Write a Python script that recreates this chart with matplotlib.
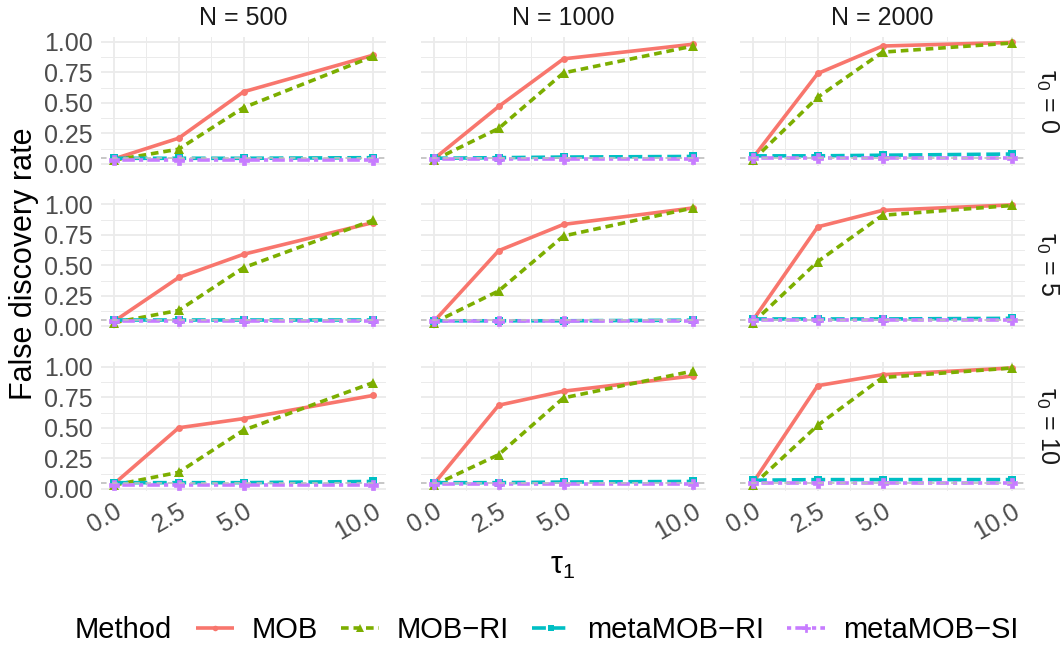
import matplotlib
matplotlib.use("Agg")
import matplotlib.pyplot as plt
from matplotlib.lines import Line2D

plt.rcParams['font.family'] = ['Liberation Sans', 'DejaVu Sans']
plt.rcParams['mathtext.fontset'] = 'custom'
plt.rcParams['mathtext.rm'] = 'Liberation Sans'
plt.rcParams['mathtext.it'] = 'Liberation Sans:italic'
plt.rcParams['lines.scale_dashes'] = False

# data
tau1 = [0, 2.5, 5, 10]
n_values = [500, 1000, 2000]
tau0_values = [0, 5, 10]
methods = ["MOB", "MOB\u2212RI", "metaMOB\u2212RI", "metaMOB\u2212SI"]

# rows = tau0 (0, 5, 10), columns = N (500, 1000, 2000)
fdr_mob = [
    [[0.04, 0.21, 0.59, 0.89], [0.04, 0.47, 0.86, 0.98], [0.05, 0.74, 0.965, 0.995]],
    [[0.04, 0.40, 0.59, 0.85], [0.04, 0.62, 0.835, 0.97], [0.05, 0.815, 0.95, 0.995]],
    [[0.04, 0.50, 0.575, 0.765], [0.04, 0.685, 0.80, 0.925], [0.05, 0.845, 0.935, 0.99]],
]
fdr_mob_ri = [
    [[0.03, 0.12, 0.46, 0.88], [0.03, 0.29, 0.745, 0.965], [0.03, 0.545, 0.915, 0.99]],
    [[0.03, 0.13, 0.48, 0.87], [0.03, 0.29, 0.74, 0.97], [0.03, 0.53, 0.91, 0.99]],
    [[0.03, 0.135, 0.48, 0.87], [0.03, 0.28, 0.745, 0.965], [0.03, 0.52, 0.912, 0.99]],
]
fdr_meta_ri = [
    [[0.045, 0.045, 0.045, 0.05], [0.045, 0.05, 0.055, 0.06], [0.065, 0.065, 0.07, 0.08]],
    [[0.05, 0.05, 0.05, 0.05], [0.045, 0.045, 0.045, 0.05], [0.06, 0.06, 0.06, 0.065]],
    [[0.05, 0.05, 0.05, 0.06], [0.05, 0.05, 0.055, 0.06], [0.07, 0.075, 0.075, 0.075]],
]
fdr_meta_si = [
    [[0.035, 0.035, 0.035, 0.035], [0.04, 0.04, 0.04, 0.04], [0.05, 0.05, 0.05, 0.05]],
    [[0.04, 0.04, 0.04, 0.04], [0.04, 0.04, 0.04, 0.04], [0.05, 0.05, 0.05, 0.05]],
    [[0.035, 0.035, 0.035, 0.035], [0.04, 0.04, 0.04, 0.04], [0.05, 0.05, 0.05, 0.05]],
]
nominal = 0.05

series = [fdr_mob, fdr_mob_ri, fdr_meta_ri, fdr_meta_si]
colors = ["#F8766D", "#7CAE00", "#00BFC4", "#C77CFF"]
markers = ["o", "^", "s", "P"]
msizes = [5, 6.5, 6, 7]
dashes = [None, (5.5, 3.5), (10, 4), (3, 3, 9, 3)]

W, H = 1064, 648
col_left = [101, 421, 740]
row_top = [36.5, 199, 361.5]
pw, ph = 285, 129.5

allvals = [v for s in series for r in s for c in r for v in c] + [nominal]
lo, hi = min(allvals), max(allvals)
pad = (hi - lo) * 0.05

fig = plt.figure(figsize=(W / 100, H / 100), dpi=100)

for i, t0 in enumerate(tau0_values):
    for j, n in enumerate(n_values):
        ax = fig.add_axes([col_left[j] / W, 1 - (row_top[i] + ph) / H, pw / W, ph / H])
        for spine in ax.spines.values():
            spine.set_visible(False)
        ax.set_xlim(-0.5, 10.5)
        ax.set_ylim(lo - pad, hi + pad)
        ax.set_xticks(tau1)
        ax.set_xticks([1.25, 3.75, 7.5], minor=True)
        ax.set_yticks([0, 0.25, 0.5, 0.75, 1.0])
        ax.set_yticks([0.125, 0.375, 0.625, 0.875], minor=True)
        ax.grid(which="major", color="#EBEBEB", lw=1.3)
        ax.grid(which="minor", color="#EBEBEB", lw=0.7)
        ax.set_axisbelow(True)
        ax.tick_params(which="both", length=0, labelsize=18, labelcolor="#4D4D4D")
        ax.tick_params(axis="y", pad=6)
        ax.tick_params(axis="x", pad=6)
        if j == 0:
            ax.set_yticklabels(["0.00", "0.25", "0.50", "0.75", "1.00"])
        else:
            ax.set_yticklabels([])
        if i == 2:
            ax.set_xticklabels(["0.0", "2.5", "5.0", "10.0"], rotation=30,
                               ha="right", va="top", rotation_mode="anchor")
        else:
            ax.set_xticklabels([])
        for k, s in enumerate(series):
            ln, = ax.plot(tau1, s[i][j], color=colors[k], lw=2.6, marker=markers[k],
                          ms=msizes[k], mew=0 if markers[k] != "P" else 0.5,
                          solid_capstyle="butt", dash_capstyle="butt", zorder=3 + k)
            if dashes[k] is not None:
                ln.set_dashes(dashes[k])
        ax.axhline(nominal, color="#BEBEBE", lw=1.2, ls=(0, (4, 4)), zorder=10)

        if i == 0:
            fig.text((col_left[j] + pw / 2) / W, 1 - 18 / H, f"N = {n}",
                     ha="center", va="center", fontsize=18, color="#1A1A1A")
        if j == 2:
            fig.text(1047 / W, 1 - (row_top[i] + ph / 2) / H, f"\u03c4$_0$ = {t0}",
                     ha="center", va="center", fontsize=18, color="#1A1A1A", rotation=-90)

fig.text(24 / W, 1 - 264 / H, "False discovery rate", rotation=90,
         ha="center", va="center", fontsize=22)
fig.text(563 / W, 1 - 566 / H, "\u03c4$_1$", ha="center", va="center", fontsize=22)

handles = []
for k in range(4):
    h = Line2D([], [], color=colors[k], lw=2.6, marker=markers[k], ms=msizes[k] * 0.8,
               mew=0 if markers[k] != "P" else 0.5, solid_capstyle="butt", dash_capstyle="butt")
    if dashes[k] is not None:
        h.set_dashes(dashes[k])
    handles.append(h)
fig.legend(handles, methods, loc="center", bbox_to_anchor=(607 / W, 1 - 630 / H), ncol=4,
           frameon=False, fontsize=21, handlelength=1.3, handletextpad=0.6,
           columnspacing=0.8, borderpad=0, borderaxespad=0)
fig.text(172 / W, 1 - 630 / H, "Method", ha="right", va="center", fontsize=21)

fig.savefig("out.png", dpi=100)
